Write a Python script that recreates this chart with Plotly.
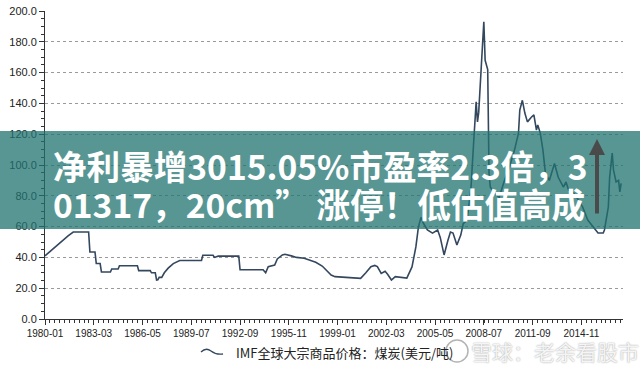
import plotly.graph_objects as go

# ---------------- data ----------------
dates = [
    "1980-01", "1980-07", "1981-01", "1981-07", "1981-11", "1982-11", "1982-12", "1983-04",
    "1983-05", "1983-08", "1983-09", "1984-04", "1984-05", "1984-10", "1984-11", "1986-01",
    "1986-02", "1986-11", "1986-12", "1987-03", "1987-04", "1987-05", "1987-06", "1987-08",
    "1987-10", "1988-01", "1988-05", "1988-10", "1990-03", "1990-04", "1990-12", "1991-01",
    "1991-04", "1992-08", "1992-09", "1994-03", "1994-05", "1994-07", "1994-12", "1995-02",
    "1995-06", "1995-08", "1996-01", "1996-05", "1996-11", "1997-04", "1997-08", "1998-01",
    "1998-04", "1998-08", "1998-11", "1999-06", "2000-01", "2000-07", "2000-11", "2001-03",
    "2001-06", "2001-08", "2001-11", "2002-02", "2002-04", "2002-07", "2002-10", "2003-02",
    "2003-07", "2003-11", "2004-02", "2004-04", "2004-06", "2004-08", "2004-11", "2005-03",
    "2005-07", "2005-09", "2005-12", "2006-03", "2006-05", "2006-07", "2006-10", "2007-01",
    "2007-03", "2007-06", "2007-09", "2007-11", "2008-01", "2008-02", "2008-03", "2008-05",
    "2008-07", "2008-08", "2008-10", "2008-11", "2008-12", "2009-03", "2009-07", "2009-11",
    "2010-03", "2010-07", "2010-10", "2010-11", "2011-01", "2011-03", "2011-05", "2011-08",
    "2011-10", "2011-12", "2012-01", "2012-03", "2012-05", "2012-07", "2012-10", "2013-02",
    "2013-05", "2013-09", "2013-11", "2014-01", "2014-05", "2014-09", "2014-12", "2015-04",
    "2015-08", "2015-12", "2016-04", "2016-05", "2016-08", "2016-09", "2016-11", "2016-12",
    "2017-02", "2017-04", "2017-05", "2017-06",
]
coal_price = [
    41.0, 45.5, 50.0, 54.0, 56.5, 56.5, 43.5, 43.5,
    36.0, 36.0, 30.5, 30.5, 32.5, 32.5, 34.6, 34.6,
    31.4, 31.4, 30.0, 30.0, 25.3, 25.5, 27.0, 27.0,
    30.0, 33.0, 36.0, 38.0, 38.0, 41.4, 41.4, 40.0,
    40.8, 40.8, 32.0, 32.0, 30.0, 34.0, 35.0, 39.0,
    41.6, 42.0, 41.0, 40.0, 39.5, 38.0, 36.8, 34.4,
    32.0, 28.5, 27.5, 27.0, 26.4, 26.4, 30.0, 34.0,
    34.8, 34.0, 29.6, 31.0, 29.0, 25.3, 27.5, 27.3,
    26.6, 33.8, 46.8, 59.7, 66.0, 62.0, 57.8, 55.8,
    57.8, 53.0, 41.6, 51.0, 56.5, 55.8, 48.0, 54.5,
    62.0, 64.0, 85.7, 114.0, 141.0, 128.0, 134.0, 163.6,
    193.0, 168.0, 162.0, 94.6, 85.7, 81.8, 79.0, 90.0,
    98.7, 110.0, 120.7, 135.7, 142.0, 133.7, 128.0, 131.0,
    132.5, 122.7, 126.0, 120.7, 110.0, 94.8, 90.0, 101.0,
    92.0, 85.7, 89.0, 83.8, 81.8, 77.0, 72.7, 64.3,
    59.7, 55.8, 55.8, 57.8, 72.7, 92.0, 107.8, 96.8,
    89.0, 90.0, 82.5, 88.0,
]

tick_dates = ["1980-01", "1983-03", "1986-05", "1989-07", "1992-09", "1995-11",
              "1999-01", "2002-03", "2005-05", "2008-07", "2011-09", "2014-11"]
tick_labels = list(tick_dates)
y_ticks = [0, 20, 40, 60, 80, 100, 120, 140, 160, 180, 200]
y_labels = ["%.1f" % v for v in y_ticks]

series_name = "IMF全球大宗商品价格：煤炭(美元/吨)"
banner_line1 = "净利暴增3015.05%市盈率2.3倍，3"
banner_line2 = "01317，20cm” 涨停！低估值高成"
watermark = "雪球：老余看股市"

# ---------------- figure ----------------
W, H = 640, 367
L, R, T, B = 45, 17, 11, 48
PW, PH = W - L - R, H - T - B


def px(xp):
    return (xp - L) / PW


def py(yp):
    return (H - B - yp) / PH


fig = go.Figure()
fig.add_trace(go.Scatter(
    x=dates, y=coal_price, mode="lines", name=series_name,
    line=dict(color="#33475e", width=1.6),
))

axis_font = dict(family="Liberation Sans, Arial, sans-serif", color="#222")

fig.update_layout(
    width=W, height=H,
    margin=dict(l=L, r=R, t=T, b=B, autoexpand=False),
    paper_bgcolor="white", plot_bgcolor="white",
    showlegend=False,
    xaxis=dict(
        type="date", range=["1980-01-01", "2017-07-15"],
        tickmode="array", tickvals=tick_dates, ticktext=tick_labels,
        ticks="outside", ticklen=5, tickcolor="#333", tickwidth=1,
        showline=True, linecolor="#333", linewidth=1,
        showgrid=False, zeroline=False,
        tickfont=dict(size=10, **axis_font),
        minor=dict(ticks="outside", ticklen=3, tickcolor="#333", dtick=86400000 * 115.7,
                   tick0="1980-01-01", showgrid=False),
    ),
    yaxis=dict(
        range=[0, 200], tickmode="array", tickvals=y_ticks, ticktext=y_labels,
        ticks="outside", ticklen=5, tickcolor="#333", tickwidth=1,
        showline=True, linecolor="#333", linewidth=1,
        showgrid=True, gridcolor="#9a9a9a", griddash="dot", gridwidth=1,
        zeroline=False,
        tickfont=dict(size=11, **axis_font),
        minor=dict(ticks="outside", ticklen=3, tickcolor="#333", dtick=5, showgrid=False),
    ),
)

# legend (drawn manually so it does not push margins)
fig.add_shape(type="path", xref="paper", yref="paper",
              xsizemode="pixel", ysizemode="pixel", xanchor=px(213), yanchor=py(352),
              path="M-12,0 Q-7,5 -2,1 T10,-2",
              line=dict(color="#33475e", width=1.3), layer="above")
fig.add_annotation(text=series_name, xref="paper", yref="paper", x=px(234), y=py(352),
                   xanchor="left", yanchor="middle", showarrow=False,
                   font=dict(family="Noto Sans CJK SC", size=13, color="#222"))

# banner overlay
fig.add_shape(type="rect", xref="paper", yref="paper",
              x0=px(0), x1=px(640), y0=py(229), y1=py(131),
              fillcolor="rgba(32,115,112,0.75)", line=dict(width=0), layer="above")

banner_font = dict(family="Noto Sans CJK SC", size=33.6, color="white", weight="bold")
fig.add_annotation(text=banner_line1, xref="paper", yref="paper", x=px(51), y=py(165),
                   xanchor="left", yanchor="middle", showarrow=False, font=banner_font)
fig.add_annotation(text=banner_line2, xref="paper", yref="paper", x=px(51), y=py(203),
                   xanchor="left", yanchor="middle", showarrow=False, font=banner_font)

# arrow in banner
fig.add_annotation(text="", xref="paper", yref="paper", x=px(597), y=py(139),
                   ax=0, ay=76, showarrow=True, arrowhead=2, arrowsize=0.8,
                   arrowwidth=4, arrowcolor="#4a4a4a")

# watermark
fig.add_shape(type="circle", xref="paper", yref="paper",
              xsizemode="pixel", ysizemode="pixel", xanchor=px(457), yanchor=py(351),
              x0=-11, x1=11, y0=-11, y1=11,
              line=dict(color="rgba(160,160,160,0.8)", width=1.5), fillcolor="rgba(255,255,255,0.4)",
              layer="above")
fig.add_annotation(text=watermark, xref="paper", yref="paper", x=px(469), y=py(351),
                   xanchor="left", yanchor="middle", showarrow=False,
                   font=dict(family="Noto Sans CJK SC", size=21, color="rgba(250,250,250,0.95)",
                             shadow="0px 0px 1.5px #8a8a8a"))

fig.write_html("out.html", config={"displayModeBar": False},
               post_script="document.body.style.margin='0';document.body.style.overflow='hidden';")
